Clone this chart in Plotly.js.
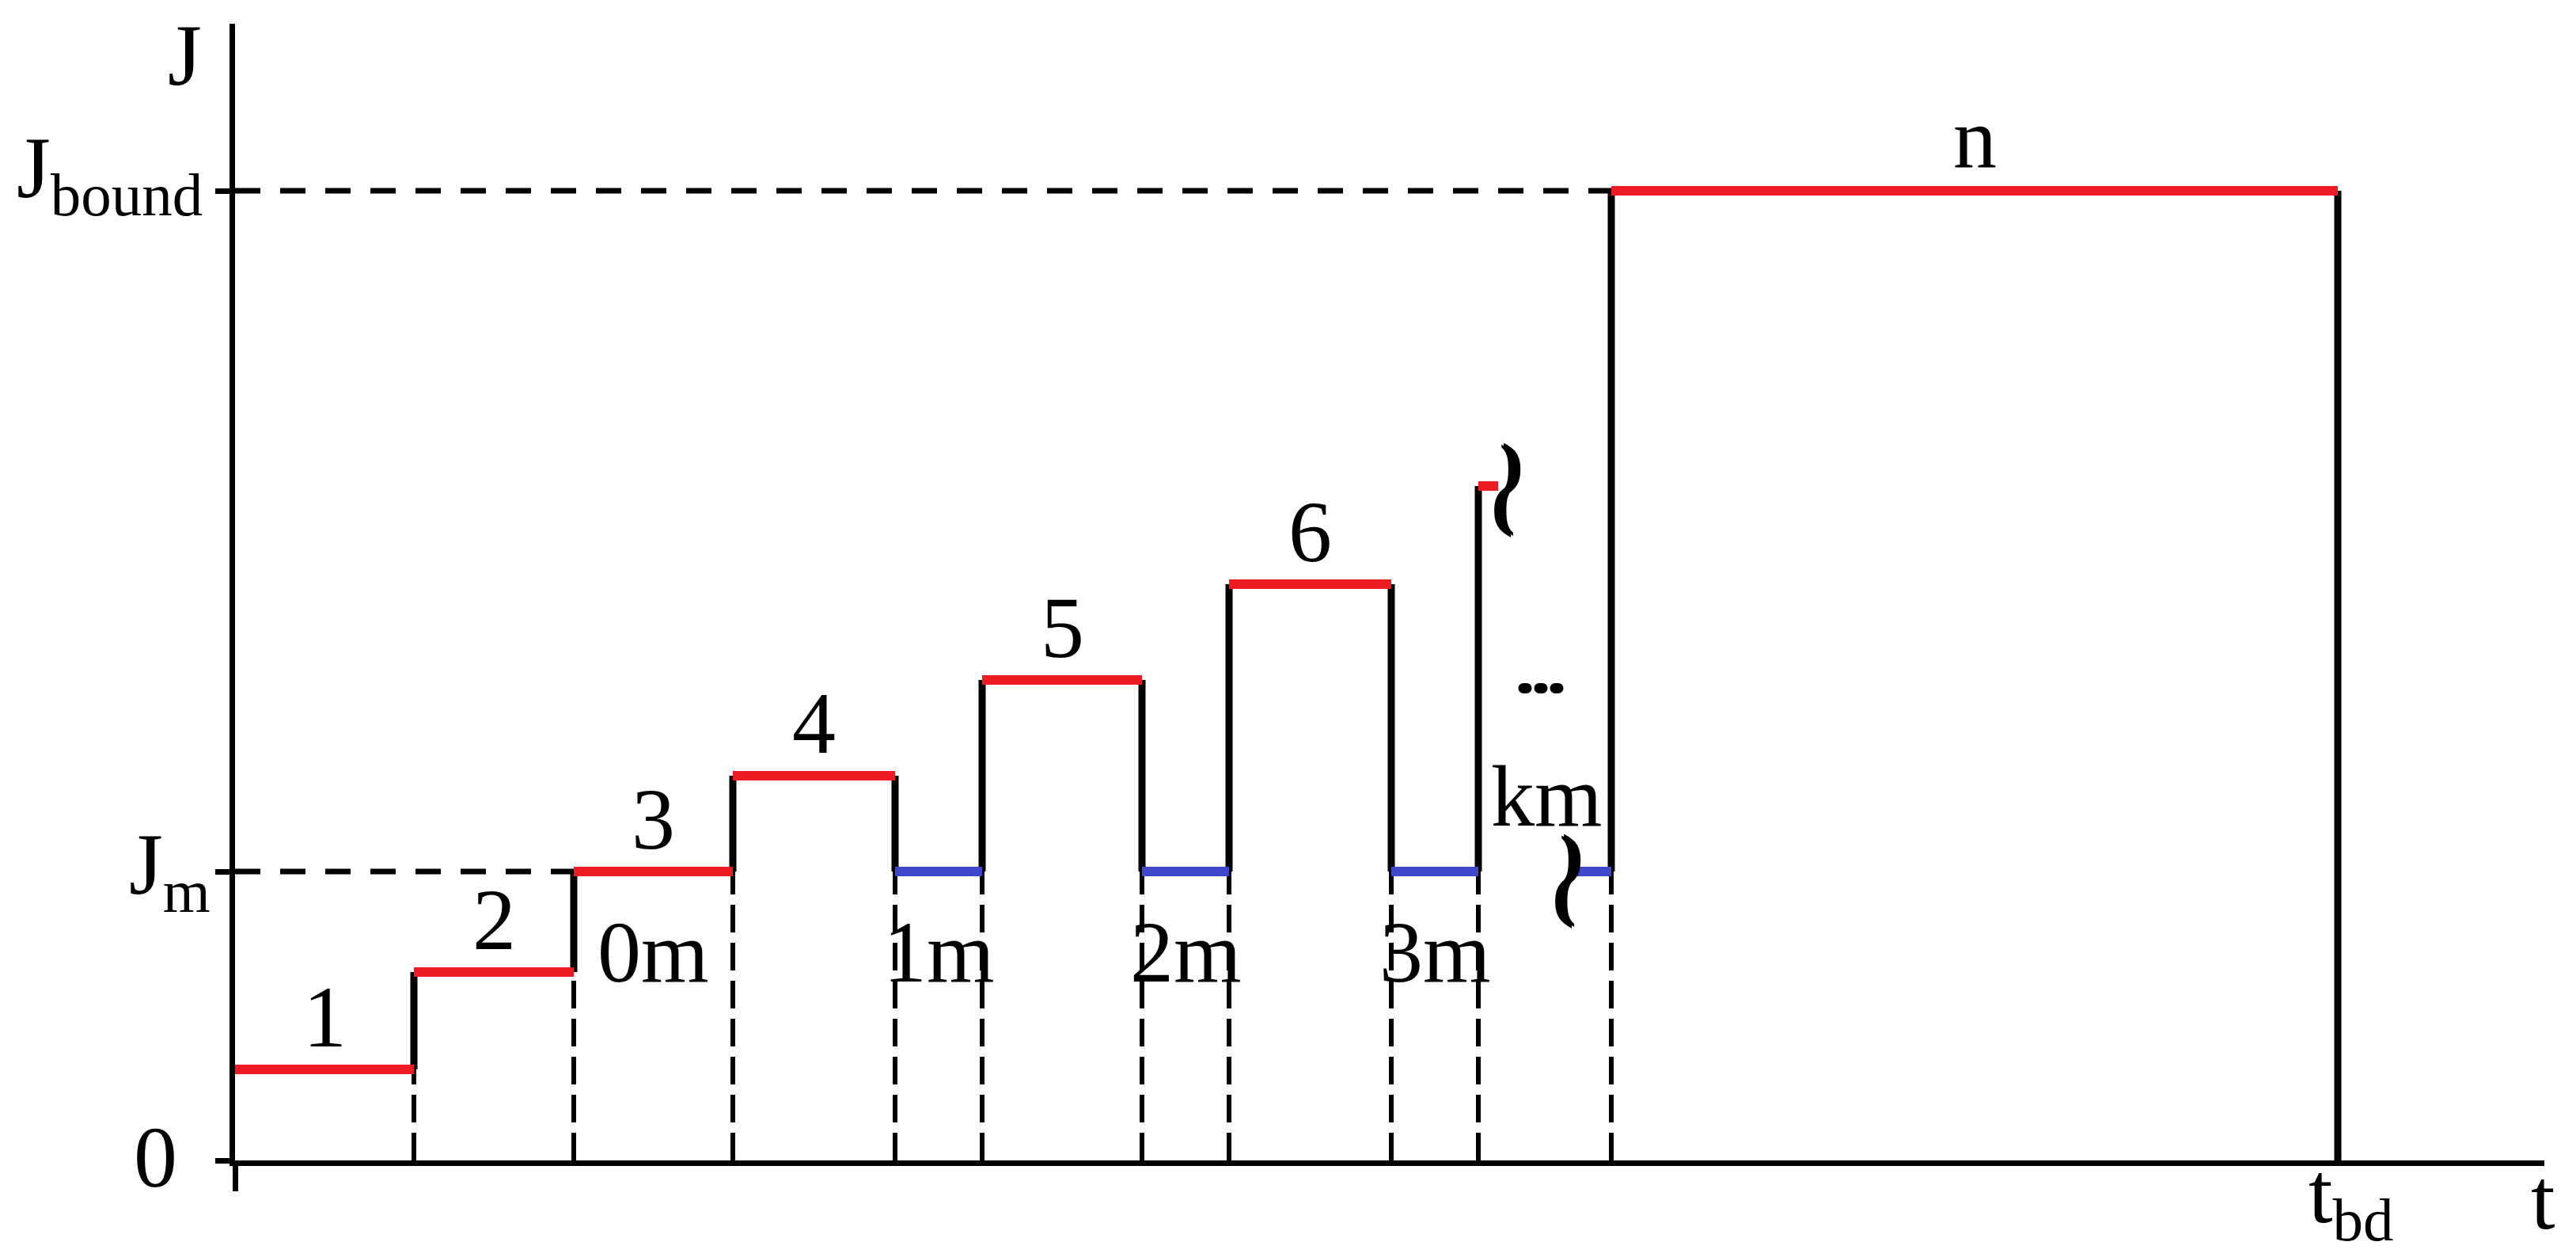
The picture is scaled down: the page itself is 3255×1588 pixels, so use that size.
<!DOCTYPE html>
<html>
<head>
<meta charset="utf-8">
<script src="https://cdn.plot.ly/plotly-3.0.1.min.js"></script>
<style>
  html, body { margin: 0; padding: 0; background: #fff; }
  #chart { width: 3255px; height: 1588px; }
</style>
</head>
<body>
<div id="chart"></div>
<script>
// current density levels
var jm = 3.65;
var jBound = 12.25;

// horizontal segments of the current profile (t start, t end, J level, kind)
var segStart = [0, 2.26, 4.28, 6.29, 8.34, 9.44, 11.46, 12.56, 14.61, 15.71, 16.96, 17.39];
var segEnd   = [2.26, 4.28, 6.29, 8.34, 9.44, 11.46, 12.56, 14.61, 15.71, 15.96, 17.39, 26.57];
var segJ     = [1.15, 2.38, jm, 4.86, jm, 6.07, jm, 7.28, jm, 8.52, jm, jBound];
var segKind  = ['step', 'step', 'step', 'step', 'hold', 'step', 'hold', 'step', 'hold', 'step', 'hold', 'step'];

// labels above the steps and below the holds
var stepNames = ['1', '2', '3', '4', '', '5', '', '6', '', '', '', 'n'];
var holdNames = ['', '', '0m', '', '1m', '', '2m', '', '3m', '', '', ''];

var xRange = [0, 29.18];
var yRange = [0, 14.36];

var red = '#ED1C24';
var blue = '#3F48CC';
var serif = 'Liberation Serif, Times New Roman, serif';

var redX = [], redY = [], blueX = [], blueY = [];
var vertX = [], vertY = [], dashX = [], dashY = [];

for (var i = 0; i < segStart.length; i++) {
  var xs = [segStart[i], segEnd[i], null];
  var ys = [segJ[i], segJ[i], null];
  if (segKind[i] === 'step') {
    redX = redX.concat(xs); redY = redY.concat(ys);
  } else {
    blueX = blueX.concat(xs); blueY = blueY.concat(ys);
  }
  // joins between neighbouring segments
  if (i > 0 && segEnd[i - 1] === segStart[i]) {
    vertX.push(segStart[i], segStart[i], null);
    vertY.push(segJ[i - 1], segJ[i], null);
    dashX.push(segStart[i], segStart[i], null);
    dashY.push(0, Math.min(segJ[i - 1], segJ[i]), null);
  }
}
// final drop at t_bd
var last = segStart.length - 1;
vertX.push(segEnd[last], segEnd[last], null);
vertY.push(segJ[last], 0, null);

var traces = [
  {
    x: [0, segEnd[2], null, 0, segStart[last]],
    y: [jm, jm, null, jBound, jBound],
    mode: 'lines', type: 'scatter', hoverinfo: 'skip',
    line: { color: '#000', width: 7, dash: '32px,25px' }
  },
  {
    x: dashX, y: dashY,
    mode: 'lines', type: 'scatter', hoverinfo: 'skip',
    line: { color: '#000', width: 6, dash: '35px,13px' }
  },
  {
    x: vertX, y: vertY,
    mode: 'lines', type: 'scatter', hoverinfo: 'skip',
    line: { color: '#000', width: 9 }
  },
  {
    x: redX, y: redY,
    mode: 'lines', type: 'scatter', hoverinfo: 'skip',
    line: { color: red, width: 12 }
  },
  {
    x: blueX, y: blueY,
    mode: 'lines', type: 'scatter', hoverinfo: 'skip',
    line: { color: blue, width: 12 }
  }
];

function label(x, y, text, opts) {
  var a = {
    x: x, y: y, xref: 'x', yref: 'y', text: text, showarrow: false,
    xanchor: 'center', yanchor: 'middle',
    font: { family: serif, size: 110, color: '#000' }
  };
  for (var k in opts) a[k] = opts[k];
  return a;
}

// labels that sit outside the axes go on paper coordinates
function outside(x, y, text, opts) {
  var a = label(x / xRange[1], y / yRange[1], text, opts);
  a.xref = 'paper';
  a.yref = 'paper';
  return a;
}

var annotations = [];
for (var i = 0; i < segStart.length; i++) {
  var mid = (segStart[i] + segEnd[i]) / 2;
  if (stepNames[i]) annotations.push(label(mid, segJ[i] + 0.66, stepNames[i]));
  if (holdNames[i]) annotations.push(label(mid, jm - 1.02, holdNames[i]));
}

annotations.push(outside(-0.64, 13.96, 'J'));
annotations.push(outside(-0.39, jBound + 0.21, 'J<sub>bound</sub>', { xanchor: 'right' }));
annotations.push(outside(-0.29, jm + 0.01, 'J<sub>m</sub>', { xanchor: 'right' }));
annotations.push(outside(-1.01, 0.04, '0'));
annotations.push(outside(29.16, -0.49, 't'));
annotations.push(outside(26.18, -0.49, 't<sub>bd</sub>', { xanchor: 'left' }));
annotations.push(label(16.57, jm + 0.95, 'km'));
annotations.push(label(16.50, 6.18, '<b>...</b>', {
  font: { family: serif, size: 80, color: '#000', shadow: '2px 0 0 #000, -2px 0 0 #000' }
}));

// axis break marks
var breakFont = {
  family: serif, size: 70, weight: 'bold', color: '#000',
  shadow: '3px 0 0 #000, -3px 0 0 #000, 0 2px 0 #000, 0 -2px 0 #000'
};
annotations.push(label(16.12, 8.80, ')', { font: breakFont }));
annotations.push(label(16.02, 8.28, '(', { font: breakFont }));
annotations.push(label(16.88, 3.86, ')', { font: breakFont }));
annotations.push(label(16.79, 3.34, '(', { font: breakFont }));

var layout = {
  width: 3255,
  height: 1588,
  paper_bgcolor: '#fff',
  plot_bgcolor: '#fff',
  showlegend: false,
  margin: { l: 297, r: 40, t: 30, b: 122 },
  xaxis: {
    range: xRange,
    showgrid: false, zeroline: false,
    showline: true, linecolor: '#000', linewidth: 7,
    ticks: 'outside', tickvals: [0], ticklen: 32, tickwidth: 7, tickcolor: '#000',
    showticklabels: false
  },
  yaxis: {
    range: yRange,
    showgrid: false, zeroline: false,
    showline: true, linecolor: '#000', linewidth: 7,
    ticks: 'outside', tickvals: [0, jm, jBound], ticklen: 18, tickwidth: 7, tickcolor: '#000',
    showticklabels: false
  },
  annotations: annotations
};

Plotly.newPlot('chart', traces, layout, { staticPlot: true });
</script>
</body>
</html>
